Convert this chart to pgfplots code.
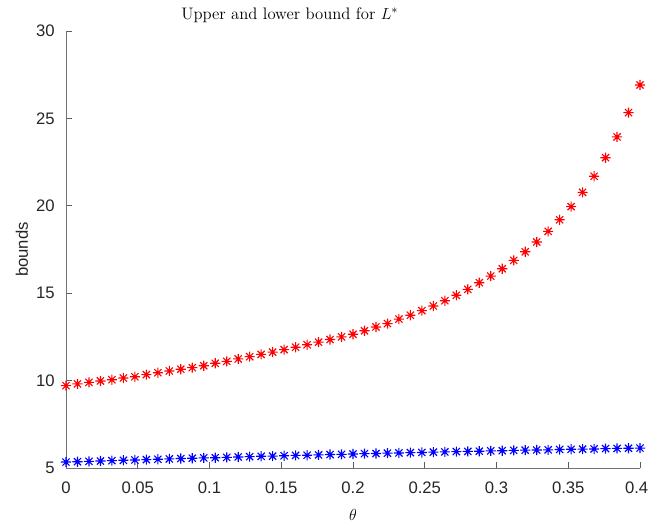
\documentclass[border=0pt]{standalone}
\usepackage{fontspec}
\usepackage{pgfplots}
\pgfplotsset{compat=1.18}
\newfontfamily\helv{Liberation Sans}
\definecolor{axgray}{rgb}{0.15,0.15,0.15}
\pgfdeclareplotmark{mstar}{%
  \pgfpathmoveto{\pgfqpoint{-\pgfplotmarksize}{0pt}}\pgfpathlineto{\pgfqpoint{\pgfplotmarksize}{0pt}}%
  \pgfpathmoveto{\pgfqpoint{0pt}{-\pgfplotmarksize}}\pgfpathlineto{\pgfqpoint{0pt}{\pgfplotmarksize}}%
  \pgfpathmoveto{\pgfqpoint{-0.707\pgfplotmarksize}{-0.707\pgfplotmarksize}}\pgfpathlineto{\pgfqpoint{0.707\pgfplotmarksize}{0.707\pgfplotmarksize}}%
  \pgfpathmoveto{\pgfqpoint{-0.707\pgfplotmarksize}{0.707\pgfplotmarksize}}\pgfpathlineto{\pgfqpoint{0.707\pgfplotmarksize}{-0.707\pgfplotmarksize}}%
  \pgfusepathqstroke}
\pgfplotstableread{
x y
0.000 9.71
0.008 9.81
0.016 9.90
0.024 9.98
0.032 10.05
0.040 10.15
0.048 10.22
0.056 10.34
0.064 10.45
0.072 10.55
0.080 10.65
0.088 10.74
0.096 10.85
0.104 10.99
0.112 11.10
0.120 11.24
0.128 11.37
0.136 11.50
0.144 11.63
0.152 11.77
0.160 11.91
0.168 12.05
0.176 12.20
0.184 12.35
0.192 12.50
0.200 12.65
0.208 12.85
0.216 13.07
0.224 13.26
0.232 13.52
0.240 13.74
0.248 14.00
0.256 14.27
0.264 14.57
0.272 14.88
0.280 15.22
0.288 15.60
0.296 15.98
0.304 16.40
0.312 16.88
0.320 17.37
0.328 17.93
0.336 18.54
0.344 19.20
0.352 19.95
0.360 20.77
0.368 21.69
0.376 22.75
0.384 23.94
0.392 25.33
0.400 26.91
}\uppertab
\pgfplotstableread{
x y
0.000 5.34
0.008 5.36
0.016 5.38
0.024 5.40
0.032 5.42
0.040 5.44
0.048 5.46
0.056 5.48
0.064 5.50
0.072 5.52
0.080 5.54
0.088 5.56
0.096 5.58
0.104 5.59
0.112 5.61
0.120 5.63
0.128 5.65
0.136 5.67
0.144 5.68
0.152 5.70
0.160 5.72
0.168 5.73
0.176 5.75
0.184 5.77
0.192 5.78
0.200 5.80
0.208 5.82
0.216 5.83
0.224 5.85
0.232 5.86
0.240 5.88
0.248 5.89
0.256 5.91
0.264 5.92
0.272 5.94
0.280 5.95
0.288 5.96
0.296 5.98
0.304 5.99
0.312 6.01
0.320 6.02
0.328 6.03
0.336 6.04
0.344 6.06
0.352 6.07
0.360 6.08
0.368 6.09
0.376 6.11
0.384 6.12
0.392 6.13
0.400 6.14
}\lowertab
\begin{document}
\begin{tikzpicture}
\useasboundingbox (-49.5pt,-42.75pt) rectangle (437.25pt,351pt);
\begin{axis}[
  scale only axis,
  width=430.5pt, height=327.75pt,
  xmin=0, xmax=0.4, ymin=5, ymax=30,
  axis lines=left,
  axis line style={-, draw=axgray!65, line width=0.6pt},
  tick style={draw=axgray!75, line width=0.5pt},
  tick align=inside,
  major tick length=4.5pt,
  xtick={0,0.05,0.1,0.15,0.2,0.25,0.3,0.35,0.4},
  xticklabels={0,0.05,0.1,0.15,0.2,0.25,0.3,0.35,0.4\hspace*{5pt}},
  ytick={5,10,15,20,25,30},
  yticklabels={5,10,15,20,25,30},
  tick label style={font=\helv\fontsize{12.5}{14}\selectfont, text=axgray},
  xticklabel style={yshift=-6.5pt},
  yticklabel style={xshift=-5pt},
  /pgf/number format/assume math mode=true,
  xlabel={$\theta$},
  xlabel style={font=\fontsize{12.5}{14}\selectfont, at={(axis description cs:0.5,-0.108)}, anchor=center, yshift=0pt},
  ylabel={bounds},
  ylabel style={font=\helv\fontsize{12.5}{14}\selectfont, text=axgray, at={(axis description cs:-0.077,0.5)}, anchor=center, xshift=0pt},
  clip=false,
]
\addplot[only marks, mark=mstar, mark size=3.8pt, red, line width=0.85pt] table[x=x,y=y] {\uppertab};
\addplot[only marks, mark=mstar, mark size=3.8pt, blue, line width=0.85pt] table[x=x,y=y] {\lowertab};
\node[font=\fontsize{12.5}{15}\selectfont, anchor=center] at (axis description cs:0.39,1.037) {Upper and lower bound for $L^*$};
\end{axis}
\end{tikzpicture}
\end{document}
